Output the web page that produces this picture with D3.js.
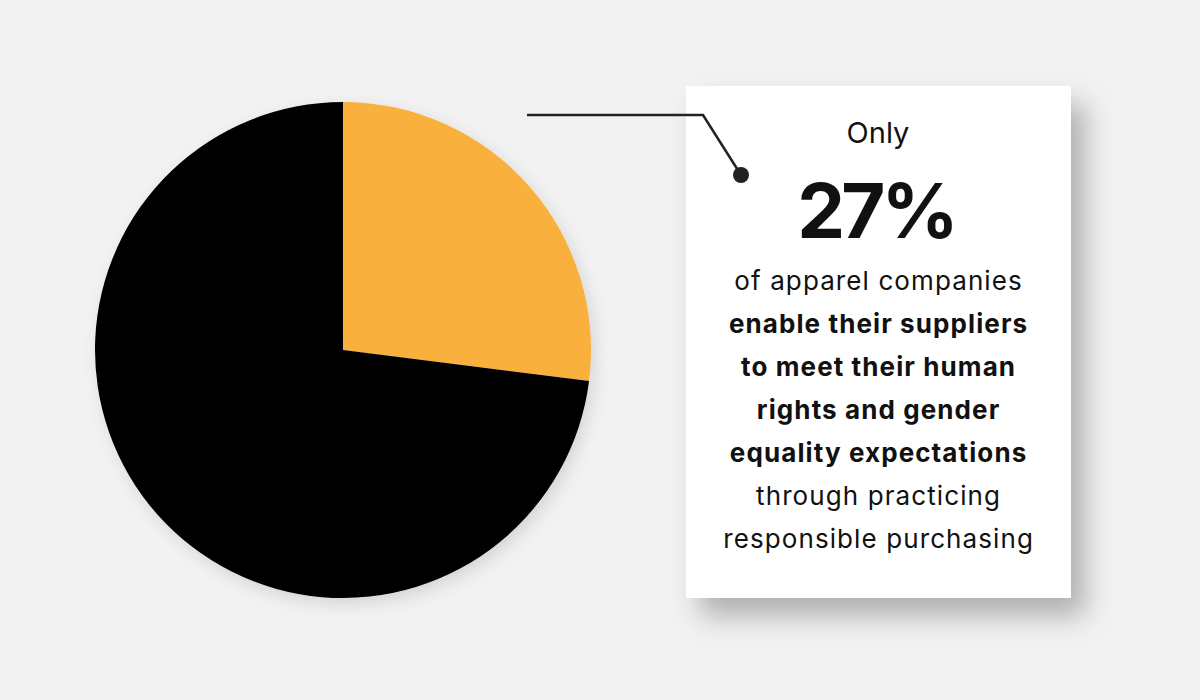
<!DOCTYPE html>
<html>
<head>
<meta charset="UTF-8">
<style>
  body { margin: 0; background: #f2f2f2; }
  svg { display: block; }
  text { font-family: Inter, "Noto Sans", sans-serif; fill: #111; }
</style>
</head>
<body>
<svg width="1200" height="700"></svg>
<script src="https://d3js.org/d3.v7.min.js"></script>
<script>
  // data
  const categories = ["Practice responsible purchasing", "Other"];
  const shares = [27, 73];
  const colors = ["#f9b03d", "#000000"];
  const headline = "27%";
  const lead = "Only";
  const bodyLines = [
    { t: "of apparel companies", bold: false },
    { t: "enable their suppliers", bold: true },
    { t: "to meet their human", bold: true },
    { t: "rights and gender", bold: true },
    { t: "equality expectations", bold: true },
    { t: "through practicing", bold: false },
    { t: "responsible purchasing", bold: false }
  ];

  const width = 1200, height = 700;
  const svg = d3.select("svg").attr("viewBox", "0 0 " + width + " " + height);

  const defs = svg.append("defs");
  const f1 = defs.append("filter").attr("id", "pieShadow")
    .attr("x", "-20%").attr("y", "-20%").attr("width", "140%").attr("height", "140%");
  f1.append("feDropShadow").attr("dx", 4).attr("dy", 6).attr("stdDeviation", 8)
    .attr("flood-color", "#000").attr("flood-opacity", 0.12);
  const f2 = defs.append("filter").attr("id", "boxShadow")
    .attr("x", "-20%").attr("y", "-20%").attr("width", "150%").attr("height", "150%");
  f2.append("feDropShadow").attr("dx", 14).attr("dy", 18).attr("stdDeviation", 14)
    .attr("flood-color", "#000").attr("flood-opacity", 0.28);

  // pie
  const cx = 343, cy = 350, r = 248;
  const pie = d3.pie().sort(null).value(d => d)(shares);
  const arc = d3.arc().innerRadius(0).outerRadius(r);

  svg.append("g")
    .attr("transform", "translate(" + cx + "," + cy + ")")
    .attr("filter", "url(#pieShadow)")
    .selectAll("path")
    .data(pie)
    .enter()
    .append("path")
    .attr("d", arc)
    .attr("fill", (d, i) => colors[i]);

  // card
  const card = { x: 686, y: 86, w: 385, h: 512 };
  svg.append("rect")
    .attr("x", card.x).attr("y", card.y)
    .attr("width", card.w).attr("height", card.h)
    .attr("fill", "#ffffff")
    .attr("filter", "url(#boxShadow)");

  // leader line
  svg.append("path")
    .attr("d", "M527,115 L703,115 L741,175")
    .attr("fill", "none")
    .attr("stroke", "#222")
    .attr("stroke-width", 2.5);
  svg.append("circle").attr("cx", 741).attr("cy", 175).attr("r", 8).attr("fill", "#222");

  const tx = card.x + card.w / 2 - 0.5;
  svg.append("text").attr("x", tx).attr("y", 143)
    .attr("text-anchor", "middle").attr("font-size", 29).text(lead);
  svg.append("text").attr("x", tx - 2).attr("y", 238)
    .attr("text-anchor", "middle").attr("font-size", 76).attr("font-weight", 700)
    .attr("letter-spacing", -4)
    .text(headline);

  svg.append("g").selectAll("text")
    .data(bodyLines)
    .enter()
    .append("text")
    .attr("x", tx + 0.6)
    .attr("y", (d, i) => 290 + i * 43)
    .attr("text-anchor", "middle")
    .attr("font-size", 26)
    .attr("letter-spacing", 1.1)
    .attr("font-weight", d => d.bold ? 700 : 400)
    .text(d => d.t);
</script>
</body>
</html>
